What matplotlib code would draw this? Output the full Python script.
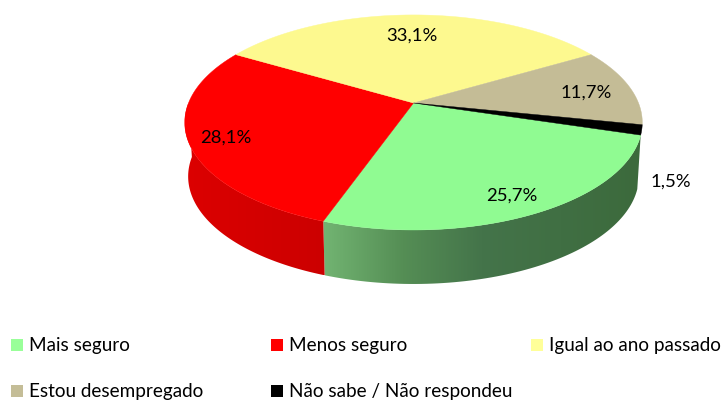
import numpy as np
import matplotlib
matplotlib.use("Agg")
import matplotlib.pyplot as plt
from matplotlib.colors import LinearSegmentedColormap
from matplotlib.patches import Polygon, Rectangle

plt.rcParams["font.family"] = ["Lato", "DejaVu Sans"]

# ===================== DATA =====================

categories = ["Mais seguro", "Menos seguro", "Igual ao ano passado",
              "Estou desempregado", "Não sabe / Não respondeu"]
values = [25.7, 28.1, 33.1, 11.7, 1.5]
colors = ["#90FB92", "#FF0000", "#FDF98F", "#C4BC96", "#000000"]
legend_colors = ["#99FF99", "#FF0000", "#FFFF99", "#C4BD97", "#000000"]

label_pos = [(512, 196), (226, 138), (412, 36), (586, 93), (671, 182)]
legend_pos = [(11, 345), (271, 345), (531, 345), (11, 391), (271, 391)]

# ===================== GEOMETRY =====================

START = -17.0     # degrees, slices run clockwise from here
CX, CY = 413.5, 103.0
A, B, K = 225.0, 104.0, 0.181
DEPTH = 54.0


def project(deg, r=1.0, drop=0.0, scale=1.0):
    # circle seen at a tilt: the far side is squeezed
    t = np.radians(deg)
    u, v = r * np.cos(t), r * np.sin(t)
    w = 1 + K * v
    return CX + scale * A * u / w, CY - B * v / w + drop


def slice_edges():
    shares = np.array(values) / sum(values) * 360
    ends = START - np.cumsum(shares)
    starts = np.r_[START, ends[:-1]]
    return starts, ends


def draw_side(ax, a0, a1, stops):
    # only the front of the rim is visible
    a0, a1 = min(a0, 0), max(a1, -180)
    if a0 <= a1:
        return
    t = np.linspace(a0, a1, 80)
    x1, y1 = project(t)
    x2, y2 = project(t, drop=DEPTH, scale=0.985)
    pts = np.column_stack([np.r_[x1, x2[::-1]], np.r_[y1, y2[::-1]]])
    poly = Polygon(pts, closed=True, fc="none", ec="none")
    ax.add_patch(poly)
    cmap = LinearSegmentedColormap.from_list("side", stops)
    grad = np.linspace(0, 1, 256).reshape(1, -1)
    im = ax.imshow(grad, cmap=cmap, aspect="auto", zorder=1,
                   extent=(pts[:, 0].min(), pts[:, 0].max(),
                           pts[:, 1].max(), pts[:, 1].min()))
    im.set_clip_path(poly)


# ===================== FIGURE =====================

fig = plt.figure(figsize=(7.23, 4.01), dpi=100)
ax = fig.add_axes([0, 0, 1, 1])

starts, ends = slice_edges()

side_stops = [
    [(0, "#72B472"), (0.25, "#558E55"), (0.5, "#44744A"), (1, "#3C6A3C")],
    [(0, "#DC0000"), (1, "#CC0000")],
    None, None, None,
]
for a0, a1, stops in zip(starts, ends, side_stops):
    if stops:
        draw_side(ax, a0, a1, stops)

for a0, a1, color in zip(starts, ends, colors):
    t = np.linspace(a0, a1, 120)
    x, y = project(t)
    ax.fill(np.r_[CX, x], np.r_[CY, y], color=color, lw=0.3, zorder=2)

for val, (lx, ly) in zip(values, label_pos):
    ax.text(lx, ly, f"{val:.1f}%".replace(".", ","), ha="center", va="center",
            fontsize=13.3, color="black", zorder=3)

for name, color, (lx, ly) in zip(categories, legend_colors, legend_pos):
    ax.add_patch(Rectangle((lx, ly - 6), 12, 12, fc=color, ec="none"))
    ax.text(lx + 18, ly + 1, name, ha="left", va="center", fontsize=13.6,
            color="black")

ax.set_xlim(0, 723)
ax.set_ylim(401, 0)
ax.axis("off")

fig.savefig("out.png", dpi=100, facecolor="white")
